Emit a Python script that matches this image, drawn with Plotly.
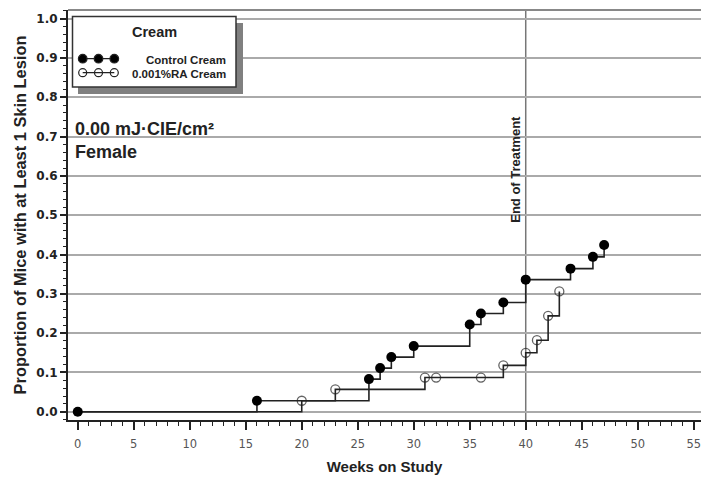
import plotly.graph_objects as go

# ---- data ----
control_weeks = [0, 16, 26, 27, 28, 30, 35, 36, 38, 40, 44, 46, 47]
control_prop = [0.0, 0.028, 0.083, 0.111, 0.139, 0.167, 0.222, 0.250, 0.278, 0.336, 0.364, 0.394, 0.424]
ra_weeks = [0, 20, 23, 31, 32, 36, 38, 40, 41, 42, 43]
ra_prop = [0.0, 0.028, 0.057, 0.087, 0.087, 0.087, 0.118, 0.150, 0.182, 0.244, 0.306]
end_of_treatment_week = 40
x_ticks = [0, 5, 10, 15, 20, 25, 30, 35, 40, 45, 50, 55]

W, H = 701, 477
ML, MR, MT, MB = 68, 0, 10, 57
PW, PH = W - ML - MR, H - MT - MB

def px(x):
    return (x - ML) / PW

def py(y):
    return (H - MB - y) / PH

FONT = "Liberation Sans, Arial, sans-serif"
TICKFONT = "DejaVu Sans, sans-serif"
LINE = "#222222"

fig = go.Figure()

# RA cream (open markers), first marker at week 0 hidden under control marker
fig.add_trace(go.Scatter(
    x=ra_weeks, y=ra_prop, mode="lines+markers", line_shape="hv",
    line=dict(color=LINE, width=1.6),
    marker=dict(symbol="circle-open", size=[0] + [9] * (len(ra_weeks) - 1),
                color=LINE, line=dict(color=LINE, width=1.3)),
    name="0.001%RA Cream", showlegend=False,
))
fig.add_trace(go.Scatter(
    x=control_weeks, y=control_prop, mode="lines+markers", line_shape="hv",
    line=dict(color=LINE, width=1.6),
    marker=dict(symbol="circle", size=10, color="black"),
    name="Control Cream", showlegend=False,
))

shapes = []
# End of treatment line
shapes.append(dict(type="line", xref="x", yref="paper", x0=end_of_treatment_week,
                   x1=end_of_treatment_week, y0=0, y1=1,
                   line=dict(color="#777777", width=1.5), layer="below"))
# top frame line
shapes.append(dict(type="line", xref="paper", yref="paper", x0=0, x1=1, y0=1, y1=1,
                   line=dict(color="#888888", width=2)))
# legend box shadow and box
shapes.append(dict(type="rect", xref="paper", yref="paper",
                   x0=px(78), x1=px(243), y0=py(23), y1=py(94),
                   fillcolor="#808080", line=dict(width=0)))
shapes.append(dict(type="rect", xref="paper", yref="paper",
                   x0=px(72.5), x1=px(236), y0=py(16.5), y1=py(87),
                   fillcolor="white", line=dict(color="#333333", width=1.5)))
# legend symbols
for ly, filled in [(58.7, True), (72.7, False)]:
    shapes.append(dict(type="line", xref="paper", yref="paper",
                       x0=px(82.7), x1=px(114.3), y0=py(ly), y1=py(ly),
                       line=dict(color=LINE, width=1.3)))
    for lx in [82.7, 98.5, 114.3]:
        r = 4.3 if filled else 4.0
        shapes.append(dict(type="circle", xref="paper", yref="paper",
                           x0=px(lx - r), x1=px(lx + r), y0=py(ly + r), y1=py(ly - r),
                           fillcolor="black" if filled else "rgba(0,0,0,0)",
                           line=dict(color=LINE, width=1.2)))

annotations = [
    dict(text="<b>Cream</b>", x=px(154), y=py(32), xref="paper", yref="paper",
         xanchor="center", yanchor="middle",
         showarrow=False, font=dict(family=FONT, size=14.5, color="#222")),
    dict(text="<b>Control Cream</b>", x=px(228), y=py(60), xref="paper", yref="paper",
         xanchor="right", yanchor="middle", showarrow=False,
         font=dict(family=FONT, size=11.5, color="#222")),
    dict(text="<b>0.001%RA Cream</b>", x=px(228), y=py(74), xref="paper", yref="paper",
         xanchor="right", yanchor="middle", showarrow=False,
         font=dict(family=FONT, size=11.5, color="#222")),
    dict(text="<b>0.00 mJ·CIE/cm²</b>", x=px(73), y=py(129), xref="paper", yref="paper",
         xanchor="left", yanchor="middle", showarrow=False,
         font=dict(family=FONT, size=18, color="#222")),
    dict(text="<b>Female</b>", x=px(73), y=py(152), xref="paper", yref="paper",
         xanchor="left", yanchor="middle", showarrow=False,
         font=dict(family=FONT, size=18, color="#222")),
    dict(text="<b>End of Treatment</b>", x=end_of_treatment_week, y=0.475, xref="x", yref="y",
         xanchor="right", yanchor="bottom", textangle=-90, showarrow=False, xshift=-1,
         font=dict(family=FONT, size=13, color="#222")),
]

fig.update_layout(
    width=W, height=H, margin=dict(l=ML, r=MR, t=MT, b=MB, autoexpand=False),
    paper_bgcolor="white", plot_bgcolor="white",
    font=dict(family=FONT, color="#222"),
    shapes=shapes, annotations=annotations, showlegend=False,
    xaxis=dict(
        range=[-0.87, 55.65], tickmode="array", tickvals=x_ticks,
        ticks="outside", ticklen=8, tickwidth=1.5, tickcolor="#222",
        minor=dict(dtick=1, tick0=0, ticks="outside", ticklen=4, tickwidth=1.2, tickcolor="#222"),
        showgrid=False, zeroline=False, showline=True, linecolor="#222", linewidth=2,
        tickfont=dict(family=TICKFONT, size=11.5, color="#555"), ticklabelstandoff=4,
        ticklabeloverflow="allow",
        title=dict(text="<b>Weeks on Study</b>", font=dict(family=FONT, size=15, color="#222"),
                   standoff=12),
    ),
    yaxis=dict(
        range=[-0.021, 1.022], tickmode="linear", tick0=0, dtick=0.1, tickformat=".1f",
        ticks="outside", ticklen=6, tickwidth=1.5, tickcolor="#222",
        minor=dict(dtick=0.02, tick0=0, ticks="outside", ticklen=3, tickwidth=1, tickcolor="#222",
                   showgrid=False),
        showgrid=True, gridcolor="#aaaaaa", gridwidth=2,
        zeroline=False, showline=True, linecolor="#222", linewidth=2,
        tickfont=dict(family=TICKFONT, size=12, color="#222", weight="bold"),
        title=dict(text="<b>Proportion of Mice with at Least 1 Skin Lesion</b>",
                   font=dict(family=FONT, size=16.4, color="#222"), standoff=6),
    ),
)

fig.write_html("out.html", config={"displayModeBar": False},
               post_script="document.body.style.margin='0';")
